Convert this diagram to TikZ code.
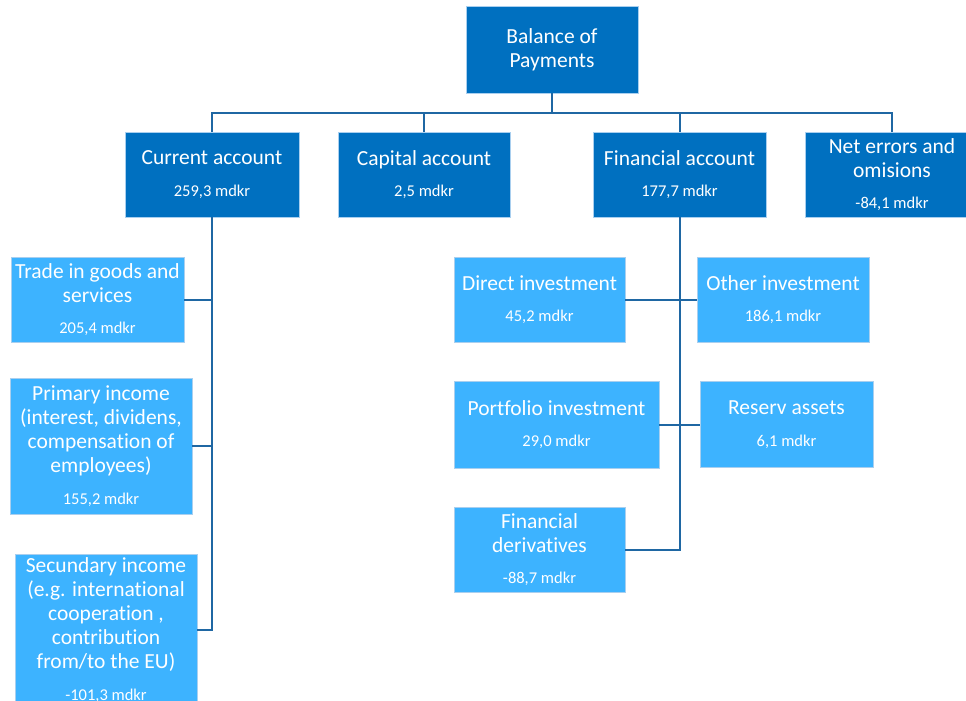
\documentclass[tikz,border=0pt]{standalone}
\usepackage{fontspec}
\setmainfont{Carlito}[Ligatures=CommonOff]
\definecolor{dkbox}{HTML}{0070C0}
\definecolor{ltbox}{HTML}{3DB3FF}
\definecolor{conn}{HTML}{1F67A3}
\definecolor{edgec}{HTML}{A9CFEF}
\tikzset{
  box/.style={draw=edgec, line width=0.8pt, text=white, align=center, inner sep=0pt,
    font=\fontsize{21.5}{24}\selectfont},
  dark/.style={box, fill=dkbox},
  light/.style={box, fill=ltbox},
  link/.style={draw=conn, line width=2pt},
}
\newcommand{\val}[1]{\\[7.5pt]{\fontsize{16.5}{18}\selectfont #1}}
\begin{document}
\begin{tikzpicture}[x=1pt,y=1pt]
\useasboundingbox (0,0) rectangle (966,-701);
\clip (0,0) rectangle (966,-701);
% level 0
\node[dark, minimum width=172pt, minimum height=87pt] (bop) at (552,-49.5) {Balance of\\Payments};
% level 1
\node[dark, minimum width=174pt, minimum height=85pt] (cur) at (212,-174.5) {Current account\val{259,3 mdkr}};
\node[dark, minimum width=172pt, minimum height=85pt] (cap) at (424,-174.5) {Capital account\val{2,5 mdkr}};
\node[dark, minimum width=173pt, minimum height=85pt] (fin) at (679.5,-174.5) {Financial account\val{177,7 mdkr}};
\node[dark, minimum width=174pt, minimum height=85pt] (net) at (892,-174.5) {Net errors and\\omisions\val{-84,1 mdkr}};
% current account children
\node[light, minimum width=173pt, minimum height=85pt] (trade) at (97.5,-299.5) {Trade in goods and\\services\val{205,4 mdkr}};
\node[light, minimum width=182pt, minimum height=136pt] (prim) at (101,-446) {Primary income\\(interest, dividens,\\compensation of\\employees)\val{155,2 mdkr}};
\node[light, minimum width=182pt, minimum height=152pt] (sec) at (106,-630) {Secundary income\\(e.g. international\\cooperation ,\\contribution\\from/to the EU)\val{-101,3 mdkr}};
% financial account children
\node[light, minimum width=171pt, minimum height=85pt] (dir) at (539.5,-299.5) {Direct investment\val{45,2 mdkr}};
\node[light, minimum width=172pt, minimum height=85pt] (oth) at (783,-299.5) {Other investment\val{186,1 mdkr}};
\node[light, minimum width=205pt, minimum height=87pt] (port) at (556.5,-424.5) {Portfolio investment\val{29,0 mdkr}};
\node[light, minimum width=173pt, minimum height=86pt] (res) at (786.5,-424.5) {Reserv assets\val{6,1 mdkr}};
\node[light, minimum width=171pt, minimum height=85pt] (der) at (539.5,-549.5) {Financial\\derivatives\val{-88,7 mdkr}};
% connectors
\coordinate (bus) at (552,-113);
\draw[link] (bop.south) -- (bus);
\draw[link] (cur.north) -- (cur.north |- bus) -- (net.north |- bus) -- (net.north);
\draw[link] (cap.north) -- (cap.north |- bus);
\draw[link] (fin.north) -- (fin.north |- bus);
\draw[link] (cur.south) -- (cur.south |- sec.east) -- (sec.east);
\draw[link] (trade.east) -- (trade.east -| cur.south);
\draw[link] (prim.east) -- (prim.east -| cur.south);
\draw[link] (fin.south) -- (fin.south |- der.east) -- (der.east);
\draw[link] (dir.east) -- (oth.west);
\draw[link] (port.east) -- (res.west);
\end{tikzpicture}
\end{document}
